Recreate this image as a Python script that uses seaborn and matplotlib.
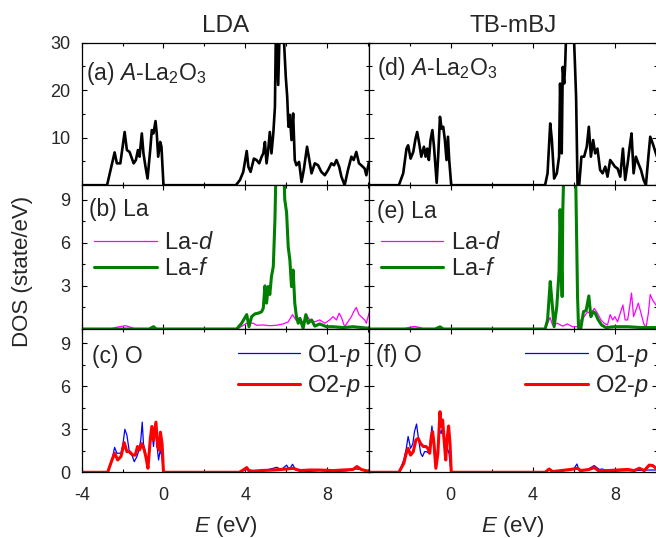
import numpy as np
import pandas as pd
import matplotlib
matplotlib.use("Agg")
import matplotlib.pyplot as plt
from matplotlib.ticker import MultipleLocator
import seaborn as sns

# ---- data (energy in eV, DOS in state/eV) ----

# (a) LDA total
lda_tot_e = [-4.0, -2.76, -2.39, -2.28, -2.11, -1.90, -1.79, -1.66, -1.46, -1.35, -1.25, -1.17, -1.06,
             -0.98, -0.88, -0.78, -0.65, -0.57, -0.49, -0.39, -0.33, -0.26, -0.16, -0.10, 0.0,
             3.54, 3.74, 3.90, 4.07, 4.15, 4.26, 4.42, 4.55, 4.68, 4.80, 4.88, 4.96, 5.04, 5.12, 5.20,
             5.28, 5.37, 5.45, 5.50, 5.61, 5.69, 5.85, 5.98, 6.05, 6.11, 6.18, 6.26, 6.34, 6.42, 6.50,
             6.63, 6.75, 6.86, 7.02, 7.12, 7.24, 7.40, 7.56, 7.72, 7.89, 8.05, 8.21, 8.34, 8.46, 8.59,
             8.70, 8.86, 9.02, 9.19, 9.30, 9.43, 9.56, 9.67, 9.84, 9.92, 10.05]
lda_tot = [0, 0, 6.9, 4.6, 4.6, 11.2, 7.4, 7.0, 4.6, 5.3, 7.4, 6.0, 10.9,
           6.7, 3.9, 1.4, 7.4, 11.6, 10.9, 13.5, 10.9, 6.0, 9.1, 8.1, 0,
           0, 1.1, 2.8, 7.2, 3.9, 2.8, 5.6, 5.3, 4.6, 6.0, 6.7, 9.1, 4.6, 7.4, 11.2,
           6.7, 10.9, 16.5, 34, 21.1, 34, 34, 22.8, 18.6, 12.3, 14.8, 9.5, 15.1, 5.3, 4.2,
           4.9, 0.7, 3.2, 8.1, 5.6, 2.5, 4.6, 4.2, 2.8, 2.1, 3.2, 4.6, 4.2, 5.3, 3.9,
           1.8, 0, 3.2, 6.0, 5.3, 7.0, 4.6, 4.2, 3.5, 2.1, 4.9]

# (d) TB-mBJ total
mbj_tot_e = [-4.0, -2.52, -2.31, -2.15, -2.07, -1.95, -1.82, -1.71, -1.63, -1.53, -1.43, -1.30, -1.22,
             -1.14, -1.06, -0.98, -0.89, -0.81, -0.68, -0.60, -0.52, -0.44, -0.36, -0.28, -0.20, -0.13,
             -0.07, 0.03, 4.60, 4.72, 4.85, 4.93, 5.04, 5.17, 5.28, 5.33, 5.41, 5.46, 5.53, 5.58, 5.64,
             5.82, 5.98, 6.05, 6.11, 6.18, 6.26, 6.37, 6.50, 6.63, 6.73, 6.83, 6.94, 7.04, 7.15, 7.28,
             7.40, 7.53, 7.64, 7.77, 7.89, 8.00, 8.13, 8.26, 8.39, 8.50, 8.62, 8.72, 8.81, 8.91, 9.02,
             9.14, 9.27, 9.40, 9.51, 9.63, 9.72, 9.84, 10.05]
mbj_tot = [0, 0, 2.5, 7.7, 8.4, 5.6, 7.0, 9.8, 11.2, 8.8, 6.0, 8.1, 6.0,
           7.7, 5.3, 9.5, 11.6, 8.1, 0.5, 6.7, 14.4, 11.9, 12.3, 9.5, 5.3, 10.2,
           5.3, 0, 0, 2.5, 13.0, 9.5, 1.4, 2.5, 6.0, 21.4, 6.7, 24.9, 21.4, 25.6, 34,
           36, 34, 26, 18.6, 0, 0, 6.0, 6.0, 8.1, 12.3, 6.0, 9.5, 6.7, 7.7, 3.2,
           2.5, 3.9, 1.8, 5.3, 4.6, 3.9, 3.5, 1.8, 7.7, 1.1, 4.6, 8.1, 10.9, 2.5, 6.0,
           4.6, 3.2, 1.1, 0, 6.0, 10.2, 8.8, 6.0]

# (b) LDA La-d / La-f
lda_lad_e = [-4.0, -2.6, -2.3, -1.87, -1.6, -1.4, 3.6, 4.07, 4.39, 4.55, 4.88, 5.20, 5.53, 5.85, 6.10,
             6.31, 6.47, 6.67, 6.86, 6.99, 7.15, 7.40, 7.64, 7.89, 8.13, 8.29, 8.46, 8.59, 8.70, 8.86,
             9.02, 9.19, 9.30, 9.43, 9.56, 9.67, 9.84, 9.92, 10.05]
lda_lad = [0, 0, 0.12, 0.23, 0.12, 0, 0, 0.4, 0.4, 0.26, 0.28, 0.23, 0.26, 0.35, 0.5,
           1.0, 0.63, 0.74, 0.4, 1.0, 0.63, 0.5, 0.63, 0.4, 0.63, 0.86, 0.63, 1.1, 0.8, 0.16,
           0.5, 0.86, 1.2, 1.5, 1.0, 0.86, 0.63, 0.4, 1.1]
lda_laf_e = [-4.0, -0.70, -0.49, -0.35, 3.58, 3.82, 4.07, 4.18, 4.31, 4.47, 4.63, 4.80, 4.88, 4.96,
             5.04, 5.12, 5.20, 5.28, 5.37, 5.45, 5.53, 5.69, 5.85, 5.93, 6.02, 6.10, 6.18, 6.26, 6.34,
             6.42, 6.50, 6.59, 6.67, 6.83, 6.96, 7.07, 7.24, 7.40, 7.64, 7.97, 8.29, 8.78, 9.27, 10.05]
lda_laf = [0, 0, 0.16, 0, 0, 0.4, 1.0, 0.16, 0.86, 1.05, 1.1, 1.2, 1.45, 3.0,
           1.8, 2.95, 2.4, 3.65, 4.35, 7.6, 13, 14, 13, 9.0, 8.1, 5.7, 4.8, 2.95, 4.1,
           1.8, 0.86, 0.4, 0.74, 0.05, 1.0, 0.4, 0.63, 0.2, 0.35, 0.16, 0.16, 0.1, 0.16, 0.05]

# (e) TB-mBJ La-d / La-f
mbj_lad_e = [-4.0, -2.3, -2.0, -1.75, -1.5, -1.3, 4.60, 4.72, 4.85, 4.96, 5.20, 5.45, 5.69, 5.93, 6.18,
             6.34, 6.50, 6.67, 6.83, 6.99, 7.15, 7.32, 7.48, 7.64, 7.77, 7.89, 8.00, 8.13, 8.26, 8.39,
             8.50, 8.62, 8.72, 8.81, 8.91, 9.02, 9.14, 9.27, 9.40, 9.51, 9.63, 9.72, 9.84, 10.05]
mbj_lad = [0, 0, 0.12, 0.18, 0.1, 0, 0, 0.4, 0.8, 0.28, 0.4, 0.2, 0.35, 0.16, 0.16,
           0.63, 0.86, 1.2, 1.0, 1.44, 1.1, 0.63, 0.4, 0.28, 1.0, 0.63, 0.86, 0.5, 1.1, 1.67,
           0.63, 0.63, 1.56, 2.5, 0.86, 1.3, 1.8, 1.1, 0.4, 0.05, 1.1, 2.4, 2.0, 1.56]
mbj_laf_e = [-4.0, -0.75, -0.52, -0.35, 4.60, 4.72, 4.85, 4.93, 5.04, 5.17, 5.28, 5.33, 5.43, 5.46,
             5.53, 5.61, 6.02, 6.10, 6.18, 6.23, 6.34, 6.47, 6.60, 6.73, 6.83, 6.94, 7.04, 7.19, 7.35,
             7.56, 7.97, 8.62, 9.27, 10.05]
mbj_laf = [0, 0, 0.15, 0, 0, 0.63, 3.3, 2.0, 0.16, 1.56, 4.0, 8.3, 2.26, 8.1,
           12, 14, 14, 9.7, 2.3, 0.05, 0.05, 1.2, 1.3, 2.3, 0.86, 1.2, 1.1, 0.63, 0.28,
           0.1, 0.16, 0.16, 0.1, 0.1]

# (c) LDA O1-p / O2-p
lda_o1_e = [-4.0, -2.73, -2.52, -2.39, -2.28, -2.08, -1.98, -1.89, -1.79, -1.66, -1.54, -1.43, -1.30,
            -1.20, -1.11, -1.04, -0.98, -0.88, -0.78, -0.65, -0.57, -0.49, -0.39, -0.33, -0.24, -0.16,
            -0.08, 0.0, 3.7, 4.07, 4.72, 5.37, 5.53, 5.77, 6.02, 6.15, 6.31, 6.47, 6.67, 6.99, 7.64,
            8.29, 8.94, 9.43, 10.05]
lda_o1 = [0, 0, 0.86, 1.74, 1.33, 1.33, 2.0, 3.0, 2.6, 1.33, 1.2, 0.74, 1.1,
          1.56, 2.26, 3.5, 2.0, 1.33, 0.4, 1.8, 2.95, 1.8, 3.2, 2.0, 0.86, 1.56,
          1.1, 0, 0, 0.2, 0.05, 0.28, 0.35, 0.2, 0.5, 0.2, 0.56, 0.16, 0.2, 0.05, 0.12,
          0.05, 0.1, 0.23, 0.12]
lda_o2_e = [-4.0, -2.73, -2.52, -2.39, -2.24, -2.08, -1.92, -1.79, -1.66, -1.50, -1.38, -1.27, -1.17,
            -1.06, -0.94, -0.85, -0.76, -0.65, -0.57, -0.49, -0.37, -0.29, -0.21, -0.15, -0.07, 0.0,
            3.7, 3.90, 4.07, 4.20, 4.72, 5.37, 6.02, 6.34, 6.67, 7.15, 7.64, 8.29, 8.78, 9.27, 9.46,
            9.67, 10.05]
lda_o2 = [0, 0, 0.86, 1.33, 0.86, 1.1, 2.07, 1.44, 1.44, 1.2, 1.2, 1.8, 1.56,
          2.0, 1.56, 1.0, 0.28, 2.26, 3.2, 2.26, 3.5, 1.8, 1.56, 2.8, 2.0, 0,
          0, 0.16, 0.33, 0.05, 0.12, 0.16, 0.23, 0.28, 0.12, 0.16, 0.16, 0.12, 0.16, 0.2, 0.4,
          0.2, 0.05]

# (f) TB-mBJ O1-p / O2-p
mbj_o1_e = [-4.0, -2.52, -2.28, -2.16, -2.07, -1.95, -1.84, -1.76, -1.66, -1.58, -1.46, -1.37, -1.27,
            -1.17, -1.07, -0.98, -0.91, -0.85, -0.73, -0.62, -0.54, -0.46, -0.39, -0.33, -0.24, -0.16,
            -0.08, 0.02, 4.55, 4.80, 5.20, 5.69, 6.02, 6.15, 6.26, 6.67, 6.99, 7.24, 7.40, 7.64, 8.29,
            8.94, 9.59, 10.05]
mbj_o1 = [0, 0, 0.86, 1.67, 2.5, 1.67, 2.0, 2.84, 3.37, 2.5, 1.33, 1.1, 1.44,
          1.44, 1.33, 2.26, 3.23, 2.26, 0.4, 1.8, 2.95, 2.7, 3.2, 2.0, 1.1, 1.67,
          1.33, 0, 0, 0.16, 0.05, 0.16, 0.28, 0.58, 0.1, 0.2, 0.47, 0.2, 0.23, 0.05, 0.1,
          0.12, 0.16, 0.16]
mbj_o2_e = [-4.0, -2.52, -2.28, -2.16, -2.07, -1.95, -1.82, -1.69, -1.58, -1.46, -1.33, -1.20, -1.11,
            -1.02, -0.94, -0.88, -0.81, -0.72, -0.62, -0.52, -0.46, -0.39, -0.33, -0.24, -0.18, -0.10,
            -0.03, 0.03, 4.60, 4.80, 4.96, 5.37, 5.85, 6.18, 6.34, 6.75, 6.99, 7.19, 7.64, 8.13, 8.62,
            8.94, 9.19, 9.43, 9.67, 9.84, 10.05]
mbj_o2 = [0, 0, 0.63, 1.33, 1.67, 1.2, 1.44, 2.26, 2.37, 2.0, 1.8, 1.8, 1.67,
          1.33, 2.5, 2.84, 2.0, 0.28, 1.33, 4.23, 3.2, 3.65, 2.5, 0.86, 2.26, 3.23,
          2.0, 0, 0, 0.23, 0.05, 0.12, 0.2, 0.28, 0.12, 0.2, 0.33, 0.12, 0.12, 0.16, 0.2,
          0.12, 0.28, 0.12, 0.5, 0.47, 0.23]

col_titles = ["LDA", "TB-mBJ"]
panel_labels = [["(a) $\\mathit{A}$-La$_2$O$_3$", "(b) La", "(c) O"],
                ["(d) $\\mathit{A}$-La$_2$O$_3$", "(e) La", "(f) O"]]
x_ticks = [[-4, 0, 4, 8], [0, 4, 8]]

# --- style -------------------------------------------------------------------------------
sns.set_style("ticks")
plt.rcParams["font.family"] = ["Liberation Sans", "DejaVu Sans"]
plt.rcParams["mathtext.fontset"] = "custom"
plt.rcParams["mathtext.rm"] = "Liberation Sans"
plt.rcParams["mathtext.it"] = "Liberation Sans:italic"
plt.rcParams["axes.unicode_minus"] = False
plt.rcParams["axes.linewidth"] = 0.9

W, H = 656, 538
fig = plt.figure(figsize=(W / 100, H / 100), dpi=100)

col_x = [(81.7, 287.3), (368.5, 288.5)]          # left edge, width (px)
row_y = [(42.7, 185.2), (185.2, 329.0), (329.0, 472.3)]  # top, bottom (px)

def add_ax(c, r):
    x0, w = col_x[c]
    top, bot = row_y[r]
    return fig.add_axes([x0 / W, (H - bot) / H, w / W, (bot - top) / H])

def line(ax, e, d, color, lw, label=None):
    sns.lineplot(x=e, y=d, ax=ax, color=color, linewidth=lw, estimator=None,
                 sort=False, label=label, legend=label is not None)

tot = [(lda_tot_e, lda_tot), (mbj_tot_e, mbj_tot)]
la = [((lda_lad_e, lda_lad), (lda_laf_e, lda_laf)), ((mbj_lad_e, mbj_lad), (mbj_laf_e, mbj_laf))]
ox = [((lda_o1_e, lda_o1), (lda_o2_e, lda_o2)), ((mbj_o1_e, mbj_o1), (mbj_o2_e, mbj_o2))]

label_pos = [[(0.015, 0.738), (0.026, 0.784), (0.035, 0.765)],
             [(0.028, 0.775), (0.030, 0.770), (0.026, 0.772)]]
leg_x = [0.043, 0.043]
leg_kw = dict(frameon=False, fontsize=17, handlelength=2.65, handletextpad=0.3,
              labelspacing=0.18, borderpad=0, borderaxespad=0)

for c in range(2):
    axes = [add_ax(c, r) for r in range(3)]
    ax_t, ax_m, ax_b = axes

    line(ax_t, *tot[c], color="black", lw=1.9)
    ax_t.set_ylim(0, 30)
    ax_t.set_yticks([10, 20, 30])
    ax_t.yaxis.set_minor_locator(MultipleLocator(5))

    line(ax_m, *la[c][0], color="#ff00ff", lw=0.9, label="La-$\\mathit{d}$")
    line(ax_m, *la[c][1], color="#008000", lw=2.2, label="La-$\\mathit{f}$")
    ax_m.set_ylim(0, 10)
    ax_m.set_yticks([3, 6, 9])
    ax_m.yaxis.set_minor_locator(MultipleLocator(1.5))
    ax_m.legend(loc="upper left", bbox_to_anchor=(leg_x[c], 0.675), **leg_kw)

    line(ax_b, *ox[c][0], color="#0000ff", lw=0.9, label="O1-$\\mathit{p}$")
    line(ax_b, *ox[c][1], color="#ff0000", lw=2.2, label="O2-$\\mathit{p}$")
    ax_b.set_ylim(0, 10)
    ax_b.set_yticks([0, 3, 6, 9])
    ax_b.yaxis.set_minor_locator(MultipleLocator(1.5))
    ax_b.legend(loc="upper left", bbox_to_anchor=(0.543, 0.905), **leg_kw)

    for r, ax in enumerate(axes):
        ax.set_xlim(-4, 10.05)
        ax.set_xticks(x_ticks[c])
        ax.xaxis.set_minor_locator(MultipleLocator(2))
        ax.tick_params(which="both", direction="in", top=True, right=True,
                       labelsize=13, color="black")
        ax.tick_params(which="major", length=3.5, width=0.8)
        ax.tick_params(which="minor", length=2, width=0.8)
        ax.tick_params(axis="y", pad=8)
        ax.tick_params(axis="x", pad=10.5)
        ax.set_ylabel("")
        ax.set_xlabel("")
        if r < 2:
            ax.tick_params(labelbottom=False)
        if c == 1:
            ax.tick_params(labelleft=False)
        for s in ax.spines.values():
            s.set_color("black")
        lx, ly = label_pos[c][r]
        ax.text(lx, ly, panel_labels[c][r], transform=ax.transAxes, fontsize=16.5,
                ha="left", va="baseline")

    ax_b.set_xlabel("$\\mathit{E}$ (eV)", fontsize=16, labelpad=7)
    ax_t.set_title(col_titles[c], fontsize=17.5, pad=7.5)

fig.text(0.035, 0.496, "DOS (state/eV)", rotation=90, fontsize=16, ha="center", va="center")

fig.savefig("out.png", dpi=100)
